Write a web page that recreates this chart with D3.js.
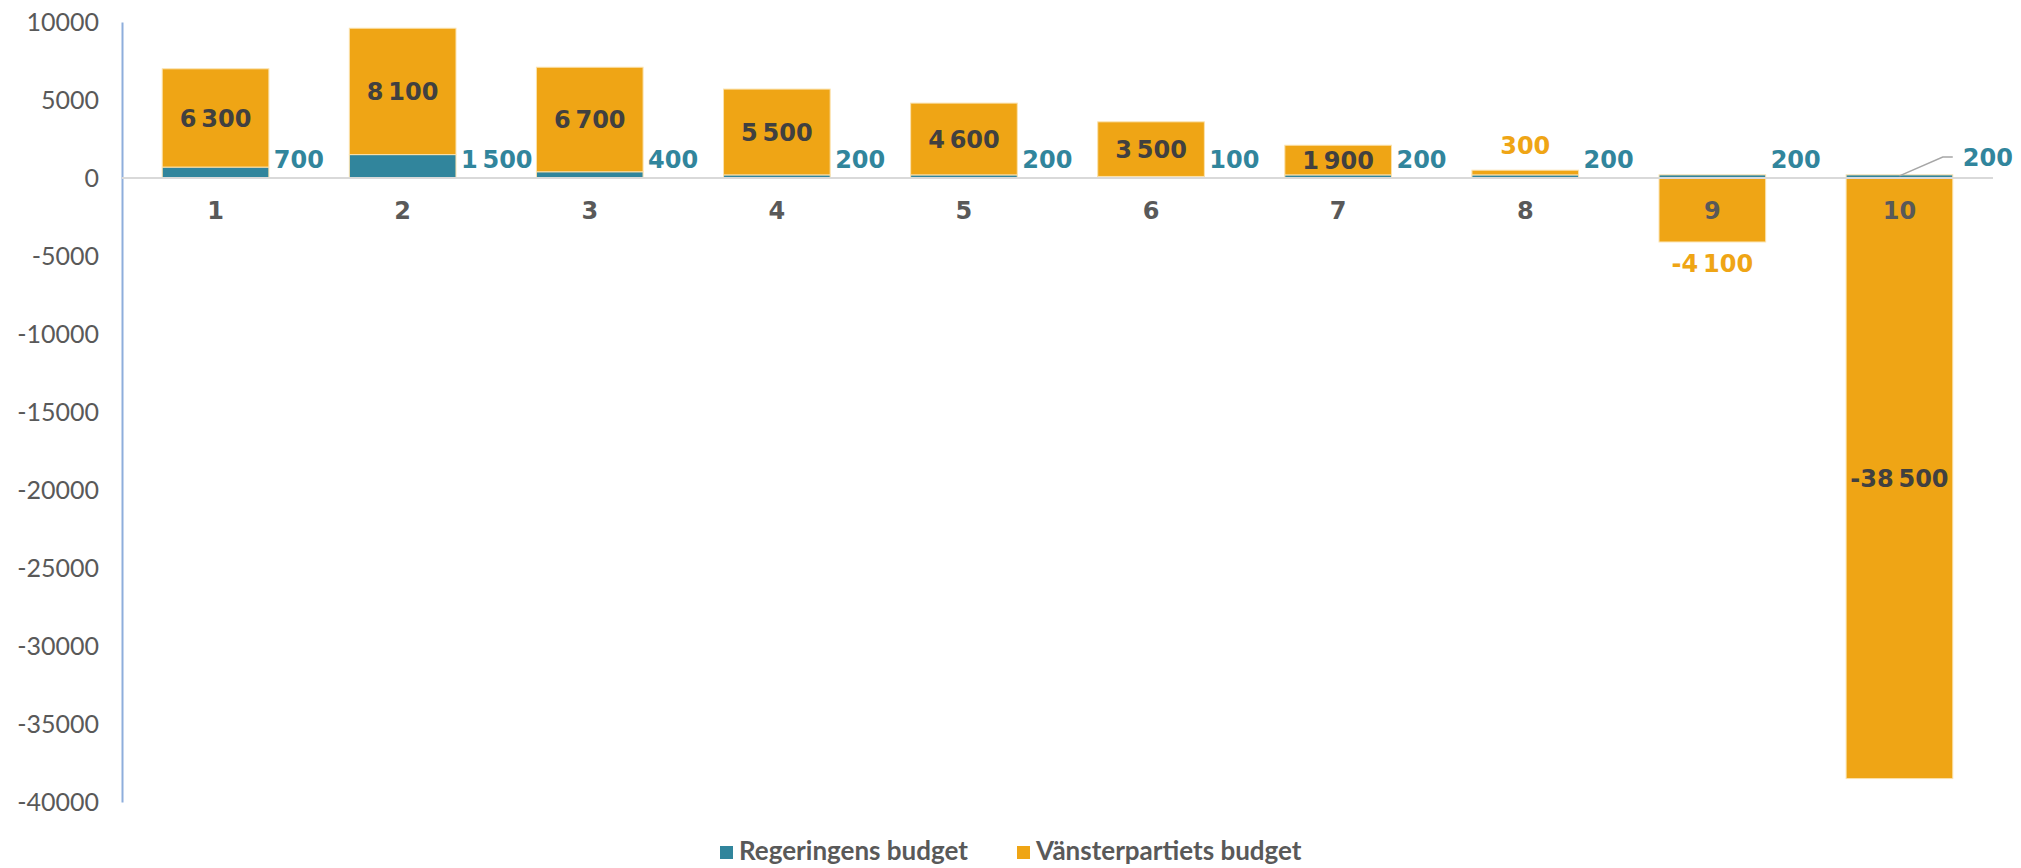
<!DOCTYPE html>
<html>
<head>
<meta charset="utf-8">
<script src="https://cdn.jsdelivr.net/npm/d3@7"></script>
<style>
    body { margin: 0; background: #ffffff; }
    svg { display: block; }
</style>
</head>
<body>
<div id="chart"></div>
<script>
// Data
var categories = ["1", "2", "3", "4", "5", "6", "7", "8", "9", "10"];
var regeringensBudget = [700, 1500, 400, 200, 200, 100, 200, 200, 200, 200];
var vansterpartietsBudget = [6300, 8100, 6700, 5500, 4600, 3500, 1900, 300, -4100, -38500];
var seriesNames = ["Regeringens budget", "Vänsterpartiets budget"];
var yTicks = [10000, 5000, 0, -5000, -10000, -15000, -20000, -25000, -30000, -35000, -40000];

// Set chart dimensions
var chartWidth = 2021;
var chartHeight = 868;

// Colours
var tealColor = "#31859c";
var orangeColor = "#efa515";
var darkText = "#404040";
var greyText = "#595959";

// Swedish number format: narrow space as thousands separator
var svLocale = d3.formatLocale({ decimal: ",", thousands: "\u202f", grouping: [3], currency: ["", ""], minus: "-" });
var formatValue = svLocale.format(",d");

// Build rows for the stack layout
var rows = categories.map((c, i) => ({ category: c, reg: regeringensBudget[i], vp: vansterpartietsBudget[i] }));

var svg = d3.select("#chart")
    .append("svg")
    .attr("width", chartWidth)
    .attr("height", chartHeight);

// Scales
var x = d3.scaleBand()
    .domain(categories)
    .range([122, 1993])
    .paddingInner(0.43)
    .paddingOuter(0.215);

var y = d3.scaleLinear()
    .domain([-40000, 10000])
    .range([802, 22]);

// Stack with diverging offset so negatives go below zero
var stacked = d3.stack()
    .keys(["reg", "vp"])
    .offset(d3.stackOffsetDiverging)(rows);

var colorScale = d3.scaleOrdinal()
    .domain(["reg", "vp"])
    .range([tealColor, orangeColor]);

// Y axis (no tick marks, only labels and the blue line)
var yAxis = svg.append("g")
    .attr("transform", "translate(" + x.range()[0] + ",0)")
    .call(d3.axisLeft(y).tickValues(yTicks).tickSize(0).tickPadding(23).tickFormat(d => String(d)));

yAxis.select(".domain")
    .attr("stroke", "#8eaedc")
    .attr("stroke-width", 2);

yAxis.selectAll("text")
    .attr("fill", greyText)
    .style("font-family", "Lato, 'Open Sans', sans-serif")
    .style("font-size", "25px")
    .style("font-weight", 400);

// Bars
var layers = svg.selectAll("g.layer")
    .data(stacked)
    .enter()
    .append("g")
    .attr("class", "layer")
    .attr("fill", d => colorScale(d.key));

layers.selectAll("rect")
    .data(d => d)
    .enter()
    .append("rect")
    .attr("x", d => x(d.data.category))
    .attr("width", x.bandwidth())
    .attr("y", d => y(Math.max(d[0], d[1])))
    .attr("height", d => Math.abs(y(d[0]) - y(d[1])))
    .attr("stroke", "#fbe2ad")
    .attr("stroke-width", 1);

// Zero line
svg.append("line")
    .attr("x1", x.range()[0])
    .attr("x2", x.range()[1])
    .attr("y1", y(0))
    .attr("y2", y(0))
    .attr("stroke", "#d9d9d9")
    .attr("stroke-width", 2);

var labelFont = "'DejaVu Sans', sans-serif";

// Category labels (drawn on top of the bars)
svg.selectAll("text.category")
    .data(categories)
    .enter()
    .append("text")
    .attr("class", "category")
    .attr("x", d => x(d) + x.bandwidth() / 2)
    .attr("y", y(0) + 32)
    .attr("dy", "0.36em")
    .attr("text-anchor", "middle")
    .attr("fill", greyText)
    .style("font-family", labelFont)
    .style("font-weight", "bold")
    .style("font-size", "24px")
    .text(d => d);

// Labels for Vänsterpartiets budget
var vpLayer = stacked[1];
svg.selectAll("text.vp-label")
    .data(vpLayer)
    .enter()
    .append("text")
    .attr("class", "vp-label")
    .each(function (d) {
        var top = y(Math.max(d[0], d[1]));
        var bottom = y(Math.min(d[0], d[1]));
        var value = d.data.vp;
        var cx = x(d.data.category) + x.bandwidth() / 2;
        var label = d3.select(this)
            .attr("x", cx)
            .attr("dy", "0.36em")
            .attr("text-anchor", "middle");
        if (value >= 0 && bottom - top < 20) {
            // too small, put above the bar
            label.attr("y", top - 25).attr("fill", orangeColor);
        } else if (value < 0 && (top + bottom) / 2 - y(0) < 80) {
            // short negative bar, put below it
            label.attr("y", bottom + 21).attr("fill", orangeColor);
        } else {
            label.attr("y", (top + bottom) / 2).attr("fill", darkText);
        }
    })
    .style("font-family", labelFont)
    .style("font-weight", "bold")
    .style("font-size", "24px")
    .text(d => formatValue(d.data.vp));

// Labels for Regeringens budget, right of each bar
var lastCategory = categories[categories.length - 1];
var regLabels = svg.selectAll("g.reg-label")
    .data(rows)
    .enter()
    .append("g")
    .attr("class", "reg-label");

regLabels.each(function (d) {
    var g = d3.select(this);
    var right = x(d.category) + x.bandwidth();
    var labelY = y(0) - 19;
    var labelX = right + 5;
    if (d.category === lastCategory) {
        // moved label with a leader line
        labelY = y(0) - 21;
        labelX = right + 10;
        var cx = x(d.category) + x.bandwidth() / 2;
        g.append("polyline")
            .attr("points", [[cx, y(d.reg) + 1], [right - 10, labelY], [right, labelY]].map(p => p.join(",")).join(" "))
            .attr("fill", "none")
            .attr("stroke", "#a6a6a6")
            .attr("stroke-width", 1.5);
    }
    g.append("text")
        .attr("x", labelX)
        .attr("y", labelY)
        .attr("dy", "0.36em")
        .attr("fill", tealColor)
        .style("font-family", labelFont)
        .style("font-weight", "bold")
        .style("font-size", "24px")
        .text(formatValue(d.reg));
});

// Legend
var legendX = [720, 1017];
var legend = svg.selectAll("g.legend")
    .data(seriesNames)
    .enter()
    .append("g")
    .attr("class", "legend")
    .attr("transform", (d, i) => "translate(" + legendX[i] + ",846)");

legend.append("rect")
    .attr("width", 13)
    .attr("height", 13)
    .attr("fill", (d, i) => colorScale.range()[i]);

legend.append("text")
    .attr("x", 19)
    .attr("y", 14)
    .attr("fill", greyText)
    .style("font-family", "Lato, sans-serif")
    .style("font-weight", "bold")
    .style("font-size", "26px")
    .text(d => d);
</script>
</body>
</html>
